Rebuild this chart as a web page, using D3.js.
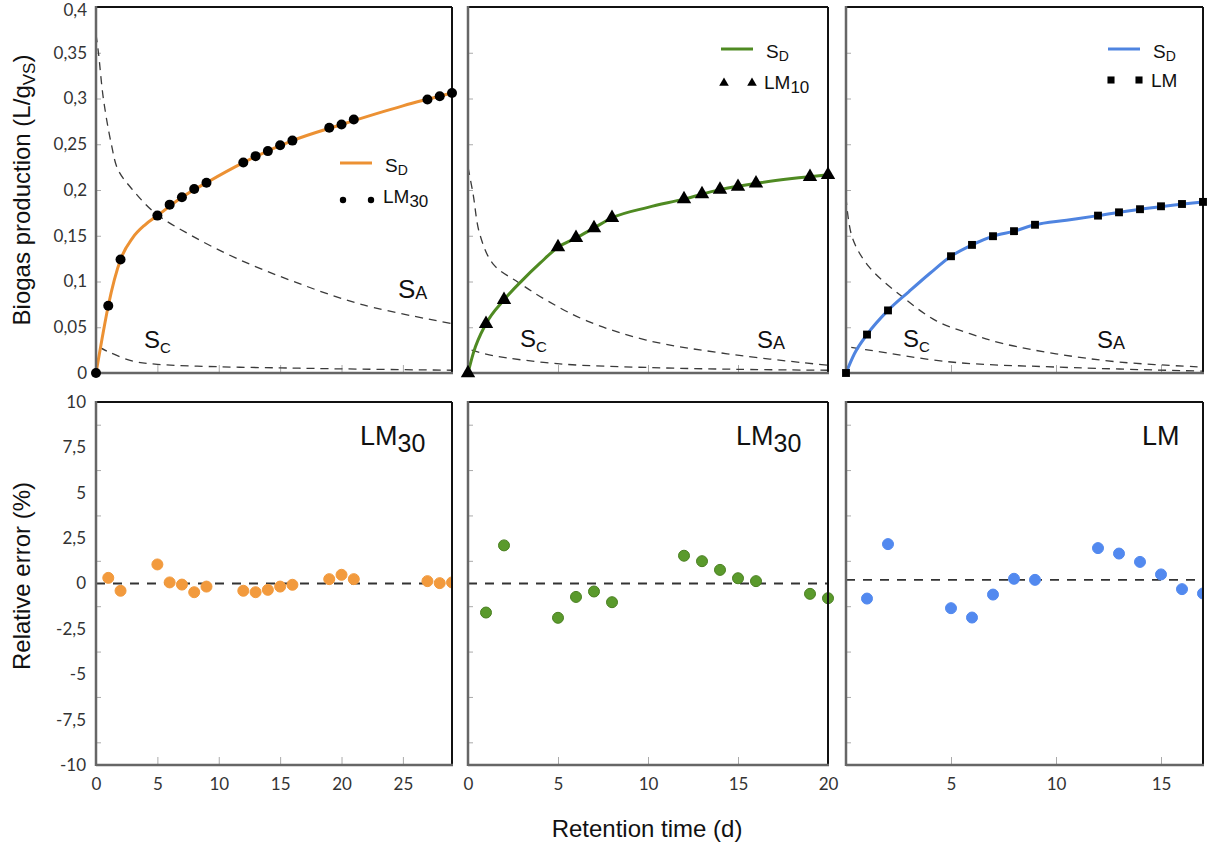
<!DOCTYPE html>
<html>
<head>
<meta charset="utf-8">
<script src="https://cdn.jsdelivr.net/npm/d3@7"></script>
<style>
  body { margin: 0; background: #fff; }
  svg { display: block; }
  .tick text { font-family: Lato, "Liberation Sans", sans-serif; font-size: 17px; fill: #333; }
  .lbl { font-family: "Liberation Sans", Arial, sans-serif; fill: #111; }
</style>
</head>
<body>
<svg id="chart" width="1207" height="848"></svg>
<script>
// ---- data ----
// panel 1 (orange, LM30)
const lm30Days = [0, 1, 2, 5, 6, 7, 8, 9, 12, 13, 14, 15, 16, 19, 20, 21, 27, 28, 29];
const lm30Gas = [0, 0.0735, 0.124, 0.172, 0.184, 0.192, 0.201, 0.208, 0.230, 0.237, 0.2425, 0.249, 0.254, 0.268, 0.2716, 0.277, 0.299, 0.3025, 0.306];
const sd30Days = [0, 0.5, 1, 2, 3, 4, 5, 7, 9, 12, 16, 20, 25, 29];
const sd30Gas = [0, 0.038, 0.0735, 0.124, 0.148, 0.162, 0.172, 0.192, 0.208, 0.230, 0.254, 0.2716, 0.292, 0.306];
const sa30Days = [0, 0.2, 0.6, 1.25, 1.8, 3, 4.8, 7.8, 11.5, 16.1, 21.6, 29];
const sa30Gas = [0.37, 0.35, 0.30, 0.25, 0.222, 0.20, 0.175, 0.15, 0.125, 0.10, 0.075, 0.054];
const sc30Days = [0.3, 1.2, 3, 5, 10, 15, 19, 29];
const sc30Gas = [0.028, 0.022, 0.013, 0.0095, 0.0068, 0.0056, 0.0047, 0.003];
const err30Days = [1, 2, 5, 6, 7, 8, 9, 12, 13, 14, 15, 16, 19, 20, 21, 27, 28, 29];
const err30 = [0.31, -0.40, 1.05, 0.06, -0.06, -0.48, -0.17, -0.40, -0.48, -0.35, -0.17, -0.07, 0.24, 0.48, 0.24, 0.13, 0.02, 0.06];

// panel 2 (green, LM10)
const lm10Days = [0, 1, 2, 5, 6, 7, 8, 12, 13, 14, 15, 16, 19, 20];
const lm10Gas = [0, 0.0538, 0.080, 0.1375, 0.1476, 0.1585, 0.1695, 0.190, 0.1956, 0.2004, 0.2036, 0.2073, 0.2145, 0.2167];
const sd10Days = [0, 0.3, 1, 2, 3, 4, 5, 6, 7, 8, 10, 12, 14, 16, 18, 20];
const sd10Gas = [0, 0.022, 0.0538, 0.080, 0.101, 0.120, 0.1375, 0.1476, 0.1585, 0.1695, 0.181, 0.190, 0.2004, 0.2073, 0.2125, 0.2167];
const sa10Days = [0, 0.28, 0.65, 1.4, 2.8, 4.4, 6.6, 9.9, 14.4, 20];
const sa10Gas = [0.225, 0.196, 0.152, 0.119, 0.099, 0.079, 0.057, 0.036, 0.021, 0.0084];
const sc10Days = [0.2, 1.4, 5.1, 10, 15, 20];
const sc10Gas = [0.025, 0.019, 0.010, 0.006, 0.004, 0.003];
const err10Days = [1, 2, 5, 6, 7, 8, 12, 13, 14, 15, 16, 19, 20];
const err10 = [-1.60, 2.10, -1.89, -0.74, -0.44, -1.03, 1.53, 1.23, 0.75, 0.29, 0.13, -0.57, -0.81];

// panel 3 (blue, LM)
const lmDays = [0, 1, 2, 5, 6, 7, 8, 9, 12, 13, 14, 15, 16, 17];
const lmGas = [0, 0.042, 0.0684, 0.1276, 0.140, 0.1495, 0.155, 0.162, 0.172, 0.1756, 0.179, 0.1822, 0.1847, 0.187];
const sdLmDays = [0, 0.4, 1, 2, 3, 4, 5, 6, 7, 8, 9, 10.5, 12, 14, 17];
const sdLmGas = [0, 0.021, 0.042, 0.0684, 0.089, 0.109, 0.1276, 0.140, 0.1495, 0.155, 0.162, 0.167, 0.172, 0.179, 0.187];
const saLmDays = [0, 0.3, 1.1, 2.7, 4.3, 5.9, 7.5, 10, 13, 17];
const saLmGas = [0.192, 0.148, 0.116, 0.083, 0.057, 0.043, 0.032, 0.021, 0.012, 0.0065];
const scLmDays = [0.25, 1.1, 5, 10, 17];
const scLmGas = [0.028, 0.025, 0.012, 0.0065, 0.002];
const errLmDays = [1, 2, 5, 6, 7, 8, 9, 12, 13, 14, 15, 16, 17];
const errLm = [-0.83, 2.17, -1.36, -1.875, -0.61, 0.26, 0.20, 1.95, 1.65, 1.19, 0.50, -0.31, -0.55];

// axes
const gasTicks = [0, 0.05, 0.1, 0.15, 0.2, 0.25, 0.3, 0.35, 0.4];
const errTicks = [-10, -7.5, -5, -2.5, 0, 2.5, 5, 7.5, 10];
const errMinor = [-8.75, -6.25, -3.75, -1.25, 1.25, 3.75, 6.25, 8.75];
const zeroRef = [0, 0, 0.2];

const zip = (xs, ys) => xs.map((x, i) => [x, ys[i]]);
const comma = d => String(d).replace(".", ",");

const panels = [
  { left: 96, right: 452, xMax: 29, color: "#ec9133", dot: "#f29a3d", dotStroke: "#f29a3d", shape: "circle",
    lm: zip(lm30Days, lm30Gas), sd: zip(sd30Days, sd30Gas), sa: zip(sa30Days, sa30Gas), sc: zip(sc30Days, sc30Gas),
    err: zip(err30Days, err30), zero: zeroRef[0], xLabels: [0, 5, 10, 15, 20, 25], xTicks: [5, 10, 15, 20, 25],
    legend: [340, 163], legSub: "30", tag: [360, 445], tagSub: "30",
    saPos: [398, 298, 26], scPos: [144, 348], clip: true },
  { left: 468, right: 828, xMax: 20, color: "#4f8a22", dot: "#5a9a2c", dotStroke: "#4a8021", shape: "triangle",
    lm: zip(lm10Days, lm10Gas), sd: zip(sd10Days, sd10Gas), sa: zip(sa10Days, sa10Gas), sc: zip(sc10Days, sc10Gas),
    err: zip(err10Days, err10), zero: zeroRef[1], xLabels: [0, 5, 10, 15, 20], xTicks: [5, 10, 15],
    legend: [721, 49], legSub: "10", tag: [736, 445], tagSub: "30",
    saPos: [757, 348, 24], scPos: [520, 347], clip: false },
  { left: 846, right: 1203, xMax: 17, color: "#4f84e0", dot: "#5289ef", dotStroke: "#5289ef", shape: "square",
    lm: zip(lmDays, lmGas), sd: zip(sdLmDays, sdLmGas), sa: zip(saLmDays, saLmGas), sc: zip(scLmDays, scLmGas),
    err: zip(errLmDays, errLm), zero: zeroRef[2], xLabels: [5, 10, 15], xTicks: [5, 10, 15],
    legend: [1108, 49], legSub: "", tag: [1142, 445], tagSub: "",
    saPos: [1097, 348, 24], scPos: [903, 347], clip: true }
];

const svg = d3.select("#chart");
const yTop = d3.scaleLinear().domain([0, 0.4]).range([373, 7]);
const yBot = d3.scaleLinear().domain([-10, 10]).range([765, 402]);

function symbolFor(shape, size) {
  const t = shape === "triangle" ? d3.symbolTriangle : d3.symbolSquare;
  return d3.symbol().type(t).size(size)();
}

function frame(g, x0, x1, y0, y1) {
  g.append("line").attr("x1", x0).attr("x2", x1).attr("y1", y0).attr("y2", y0).attr("stroke", "#111").attr("stroke-width", 2);
  g.append("line").attr("x1", x1).attr("x2", x1).attr("y1", y0).attr("y2", y1).attr("stroke", "#111").attr("stroke-width", 2);
  g.append("line").attr("x1", x0).attr("x2", x0).attr("y1", y0 - 1).attr("y2", y1 + 1).attr("stroke", "#666").attr("stroke-width", 2.5);
  g.append("line").attr("x1", x0).attr("x2", x1 + 1).attr("y1", y1).attr("y2", y1).attr("stroke", "#666").attr("stroke-width", 2.5);
}

function subText(g, x, y, main, sub, size, subSize, shift) {
  const t = g.append("text").attr("class", "lbl").attr("x", x).attr("y", y).style("font-size", size + "px").text(main);
  if (sub) t.append("tspan").attr("dy", shift).style("font-size", subSize + "px").text(sub);
  return t;
}

panels.forEach((p, i) => {
  const x = d3.scaleLinear().domain([0, p.xMax]).range([p.left, p.right]);

  // ---------- top panel ----------
  const top = svg.append("g");

  const ya = top.append("g").attr("transform", "translate(" + p.left + ",0)")
    .call(d3.axisRight(yTop).tickValues(gasTicks.slice(1, -1)).tickSize(5).tickFormat(""));
  ya.select(".domain").remove();
  ya.selectAll("line").attr("stroke", "#aaa");
  if (i === 0) {
    const yl = top.append("g").attr("transform", "translate(" + p.left + ",0)")
      .call(d3.axisLeft(yTop).tickValues(gasTicks).tickSize(0).tickPadding(9).tickFormat(comma));
    yl.select(".domain").remove();
    // keep the top label inside the page
    yl.selectAll(".tick").filter(d => d === 0.4).select("text").attr("dy", "0.5em");
  }
  const xa = top.append("g").attr("transform", "translate(0,373)")
    .call(d3.axisBottom(x).tickValues(p.xTicks).tickSizeInner(-8).tickSizeOuter(0).tickFormat(""));
  xa.select(".domain").remove();
  xa.selectAll("line").attr("stroke", "#aaa");

  const line = d3.line().x(d => x(d[0])).y(d => yTop(d[1])).curve(d3.curveMonotoneX);
  const dash = d3.line().x(d => x(d[0])).y(d => yTop(d[1])).curve(d3.curveCatmullRom.alpha(0.5));
  top.append("path").attr("d", dash(p.sa)).attr("fill", "none").attr("stroke", "#3a3a3a").attr("stroke-width", 1.3).attr("stroke-dasharray", "8,6");
  top.append("path").attr("d", dash(p.sc)).attr("fill", "none").attr("stroke", "#3a3a3a").attr("stroke-width", 1.3).attr("stroke-dasharray", "8,6");
  top.append("path").attr("d", line(p.sd)).attr("fill", "none").attr("stroke", p.color).attr("stroke-width", 3);

  frame(top, p.left, p.right, 7, 373);

  if (p.shape === "circle") {
    top.selectAll(".pt").data(p.lm).enter().append("circle")
      .attr("cx", d => x(d[0])).attr("cy", d => yTop(d[1])).attr("r", 5).attr("fill", "#000");
  } else {
    top.selectAll(".pt").data(p.lm).enter().append("path")
      .attr("d", symbolFor(p.shape, p.shape === "triangle" ? 90 : 62))
      .attr("transform", d => "translate(" + x(d[0]) + "," + yTop(d[1]) + ")").attr("fill", "#000");
  }

  // legend
  const [lx, ly] = p.legend;
  top.append("line").attr("x1", lx).attr("x2", lx + 32).attr("y1", ly).attr("y2", ly).attr("stroke", p.color).attr("stroke-width", 3);
  subText(top, lx + 45, ly + 9, "S", "D", 19, 14, 3);
  [lx + 3, lx + 31].forEach(mx => {
    if (p.shape === "circle") top.append("circle").attr("cx", mx).attr("cy", ly + 37).attr("r", 3.2).attr("fill", "#000");
    else top.append("path").attr("d", symbolFor(p.shape, p.shape === "triangle" ? 40 : 50))
      .attr("transform", "translate(" + mx + "," + (ly + (p.shape === "triangle" ? 34 : 31)) + ")").attr("fill", "#000");
  });
  subText(top, lx + 43, ly + (p.shape === "square" ? 38 : 40), "LM", p.legSub, 19, 17, 4);

  // curve names
  subText(top, p.saPos[0], p.saPos[1], "S", "A", p.saPos[2], 18, 1);
  subText(top, p.scPos[0], p.scPos[1], "S", "C", 24, 15, 5);

  // ---------- bottom panel ----------
  const bot = svg.append("g");
  const ea = bot.append("g").attr("transform", "translate(" + p.left + ",0)")
    .call(d3.axisRight(yBot).tickValues(errMinor).tickSize(5).tickFormat(""));
  ea.select(".domain").remove();
  ea.selectAll("line").attr("stroke", "#aaa");
  if (i === 0) {
    const el = bot.append("g").attr("transform", "translate(" + p.left + ",0)")
      .call(d3.axisLeft(yBot).tickValues(errTicks).tickSize(0).tickPadding(10).tickFormat(comma));
    el.select(".domain").remove();
  }
  const xb = bot.append("g").attr("transform", "translate(0,765)")
    .call(d3.axisBottom(x).tickValues(p.xTicks).tickSizeInner(-8).tickSizeOuter(0).tickFormat(""));
  xb.select(".domain").remove();
  xb.selectAll("line").attr("stroke", "#aaa");
  const xl = bot.append("g").attr("transform", "translate(0,765)")
    .call(d3.axisBottom(x).tickValues(p.xLabels).tickSize(0).tickPadding(13).tickFormat(d3.format("d")));
  xl.select(".domain").remove();

  bot.append("line").attr("x1", p.left).attr("x2", p.right).attr("y1", yBot(p.zero)).attr("y2", yBot(p.zero))
    .attr("stroke", "#333").attr("stroke-width", 1.8).attr("stroke-dasharray", "9,8");

  const clipId = "clip" + i;
  svg.append("clipPath").attr("id", clipId).append("rect")
    .attr("x", p.left - 20).attr("y", 402).attr("width", p.right - p.left + 20).attr("height", 363);
  const dots = bot.append("g");
  if (p.clip) dots.attr("clip-path", "url(#" + clipId + ")");
  dots.selectAll("circle").data(p.err).enter().append("circle")
    .attr("cx", d => x(d[0])).attr("cy", d => yBot(d[1])).attr("r", 5.5)
    .attr("fill", p.dot).attr("stroke", p.dotStroke).attr("stroke-width", 1);

  frame(bot, p.left, p.right, 402, 765);

  subText(bot, p.tag[0], p.tag[1], "LM", p.tagSub, 27, 25, 7);
});

// axis titles
const yt1 = svg.append("text").attr("class", "lbl").attr("transform", "translate(30,190) rotate(-90)")
  .attr("text-anchor", "middle").style("font-size", "24px").text("Biogas production (L/g");
yt1.append("tspan").attr("dy", 5).style("font-size", "17px").text("VS");
yt1.append("tspan").attr("dy", -5).text(")");

svg.append("text").attr("class", "lbl").attr("transform", "translate(30,576) rotate(-90)")
  .attr("text-anchor", "middle").style("font-size", "24px").text("Relative error (%)");

svg.append("text").attr("class", "lbl").attr("x", 647).attr("y", 837)
  .attr("text-anchor", "middle").style("font-size", "24px").text("Retention time (d)");
</script>
</body>
</html>
